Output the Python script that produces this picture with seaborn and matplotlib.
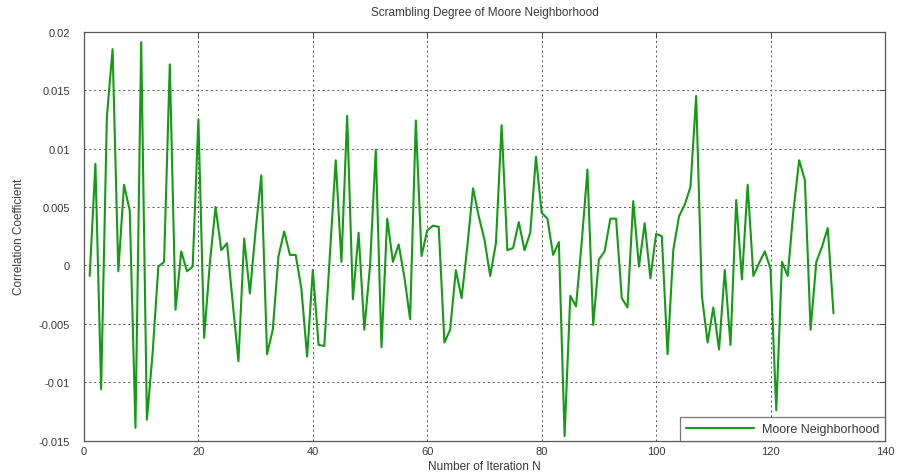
import numpy as np
import pandas as pd
import matplotlib
matplotlib.use("Agg")
import matplotlib.pyplot as plt
import seaborn as sns

iterations = list(range(1, 132))
correlation = [
    -0.0009, 0.0087, -0.0106, 0.0127, 0.0185, -0.0005, 0.0069, 0.0047, -0.0139, 0.0191,
    -0.0132, -0.0075, -0.0001, 0.0003, 0.0172, -0.0038, 0.0012, -0.0005, -0.0001, 0.0125,
    -0.0062, 0.0002, 0.0050, 0.0013, 0.0019, -0.0032, -0.0082, 0.0023, -0.0024, 0.0030,
    0.0077, -0.0076, -0.0055, 0.0008, 0.0029, 0.0009, 0.0009, -0.0020, -0.0078, -0.0004,
    -0.0068, -0.0069, 0.0010, 0.0090, 0.0003, 0.0128, -0.0029, 0.0028, -0.0055, 0.0000,
    0.0099, -0.0070, 0.0040, 0.0003, 0.0018, -0.0010, -0.0046, 0.0124, 0.0008, 0.0030,
    0.0034, 0.0033, -0.0066, -0.0055, -0.0004, -0.0028, 0.0016, 0.0066, 0.0042, 0.0022,
    -0.0009, 0.0019, 0.0120, 0.0013, 0.0015, 0.0037, 0.0013, 0.0028, 0.0093, 0.0045,
    0.0040, 0.0009, 0.0020, -0.0146, -0.0026, -0.0035, 0.0020, 0.0082, -0.0051, 0.0005,
    0.0012, 0.0040, 0.0040, -0.0028, -0.0036, 0.0055, -0.0001, 0.0036, -0.0011, 0.0027,
    0.0025, -0.0076, 0.0013, 0.0042, 0.0052, 0.0067, 0.0145, -0.0026, -0.0066, -0.0036,
    -0.0072, -0.0004, -0.0068, 0.0056, -0.0012, 0.0069, -0.0009, 0.0002, 0.0012, -0.0003,
    -0.0124, 0.0003, -0.0009, 0.0047, 0.0090, 0.0073, -0.0055, 0.0003, 0.0016, 0.0032,
    -0.0041,
]
series_name = "Moore Neighborhood"
x_ticks = [0, 20, 40, 60, 80, 100, 120, 140]
y_ticks = [-0.015, -0.01, -0.005, 0, 0.005, 0.01, 0.015, 0.02]
y_tick_labels = ["-0.015", "-0.01", "-0.005", "0", "0.005", "0.01", "0.015", "0.02"]

df = pd.DataFrame({"N": iterations, "r": correlation, "series": series_name})

sns.set_style("white")
plt.rcParams["font.family"] = ["Liberation Sans", "DejaVu Sans"]

fig = plt.figure(figsize=(9, 4.77), dpi=100)
ax = fig.add_axes([0.0933, 0.074, 0.890, 0.8575])

sns.lineplot(data=df, x="N", y="r", hue="series", palette=["#159a15"],
             linewidth=1.5, ax=ax, legend=True)

ax.set_xlim(0, 140)
ax.set_ylim(-0.015, 0.02)
ax.set_xticks(x_ticks)
ax.set_yticks(y_ticks)
ax.set_yticklabels(y_tick_labels)

text_color = "#3a3a3a"
ax.grid(True, linestyle=(0, (2, 3)), color="#555555", linewidth=0.7)
ax.tick_params(direction="in", length=4, width=0.7, colors="#444444",
               labelcolor=text_color, labelsize=8, top=True, right=True)
ax.tick_params(axis="y", pad=10)
ax.tick_params(axis="x", pad=4)
for s in ax.spines.values():
    s.set_color("#555555")
    s.set_linewidth(0.9)

ax.set_title("Scrambling Degree of Moore Neighborhood", fontsize=8.5,
             color=text_color, pad=12)
ax.set_xlabel("Number of Iteration N", fontsize=8.5, color=text_color, labelpad=3)
ax.set_ylabel("Correlation Coefficient", fontsize=8.5, color=text_color, labelpad=10)

leg = ax.legend(loc="lower right", fontsize=9, frameon=True, fancybox=False,
                borderaxespad=0.0, handlelength=5.5, borderpad=0.45,
                handletextpad=0.6)
leg.get_frame().set_edgecolor("#555555")
leg.get_frame().set_linewidth(0.9)
for t in leg.get_texts():
    t.set_color(text_color)

fig.savefig("out.png", dpi=100)
